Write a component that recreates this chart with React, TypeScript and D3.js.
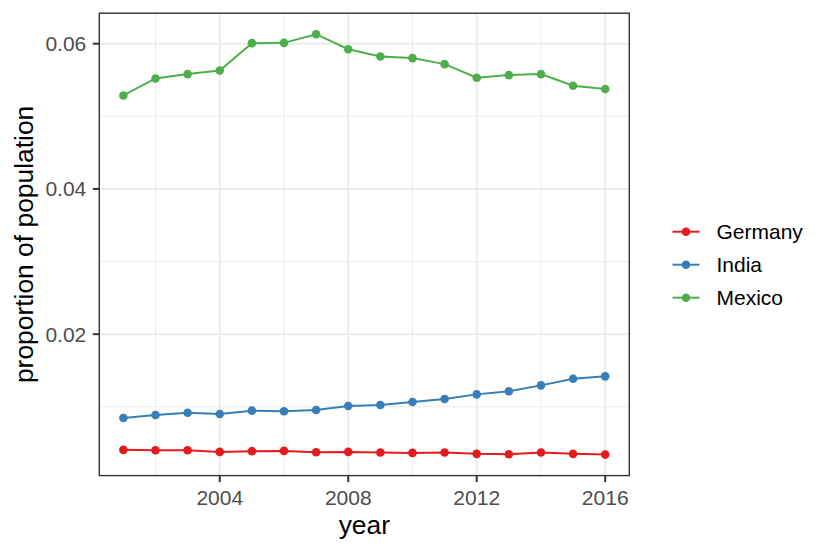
import React from "react";
import * as d3 from "d3";

const years = [2001, 2002, 2003, 2004, 2005, 2006, 2007, 2008, 2009, 2010, 2011, 2012, 2013, 2014, 2015, 2016];
const germany = [0.00407, 0.00402, 0.00402, 0.00379, 0.00389, 0.00393, 0.00375, 0.00379, 0.0037, 0.00365, 0.0037, 0.00352, 0.00347, 0.0037, 0.00352, 0.00342];
const india = [0.00846, 0.00887, 0.00919, 0.00901, 0.00947, 0.00938, 0.00956, 0.01011, 0.01025, 0.01066, 0.01107, 0.01171, 0.01213, 0.01295, 0.01386, 0.01419];
const mexico = [0.05287, 0.05521, 0.05581, 0.05631, 0.06007, 0.06011, 0.0613, 0.05924, 0.05823, 0.05801, 0.05718, 0.0553, 0.05567, 0.05581, 0.0542, 0.05375];
const countries = ["Germany", "India", "Mexico"];
const colors = ["#E41A1C", "#377EB8", "#4DAF4A"];
const xBreaks = [2004, 2008, 2012, 2016];
const xMinor = [2002, 2006, 2010, 2014];
const yBreaks = [0.02, 0.04, 0.06];
const yMinor = [0.01, 0.03, 0.05];

const W = 830, H = 554;
const pL = 99.3, pR = 629.3, pT = 13.2, pB = 475.6;
const FONT = "'Liberation Sans', Arial, Helvetica, sans-serif";

export default function App() {
  const series = [germany, india, mexico];
  const all = series.flat();
  const [yMin, yMax] = d3.extent(all) as [number, number];
  const yPad = (yMax - yMin) * 0.05;
  const xPad = (years[years.length - 1] - years[0]) * 0.05;
  const x = d3.scaleLinear().domain([years[0] - xPad, years[years.length - 1] + xPad]).range([pL, pR]);
  const y = d3.scaleLinear().domain([yMin - yPad, yMax + yPad]).range([pB, pT]);
  const line = d3.line<number>().x((_, i) => x(years[i])).y((d) => y(d));
  const fmt = d3.format(".2f");

  return (
    <svg width={W} height={H} style={{ position: "absolute", left: 0, top: 0, background: "#fff" }} fontFamily={FONT}>
      <rect x={0} y={0} width={W} height={H} fill="#fff" />
      <rect x={pL} y={pT} width={pR - pL} height={pB - pT} fill="#fff" />
      {yMinor.map((v) => (
        <line key={"ym" + v} x1={pL} x2={pR} y1={y(v)} y2={y(v)} stroke="#EBEBEB" strokeWidth={1} />
      ))}
      {xMinor.map((v) => (
        <line key={"xm" + v} y1={pT} y2={pB} x1={x(v)} x2={x(v)} stroke="#EBEBEB" strokeWidth={1} />
      ))}
      {yBreaks.map((v) => (
        <line key={"yM" + v} x1={pL} x2={pR} y1={y(v)} y2={y(v)} stroke="#EBEBEB" strokeWidth={2} />
      ))}
      {xBreaks.map((v) => (
        <line key={"xM" + v} y1={pT} y2={pB} x1={x(v)} x2={x(v)} stroke="#EBEBEB" strokeWidth={2} />
      ))}
      {series.map((s, k) => (
        <g key={countries[k]}>
          <path d={line(s) || ""} fill="none" stroke={colors[k]} strokeWidth={2} />
          {s.map((v, i) => (
            <circle key={i} cx={x(years[i])} cy={y(v)} r={4.3} fill={colors[k]} />
          ))}
        </g>
      ))}
      <rect x={pL} y={pT} width={pR - pL} height={pB - pT} fill="none" stroke="#333333" strokeWidth={1.4} />
      {yBreaks.map((v) => (
        <g key={"yt" + v}>
          <line x1={pL - 6.5} x2={pL} y1={y(v)} y2={y(v)} stroke="#333333" strokeWidth={2} />
          <text x={pL - 13} y={y(v)} dy="0.36em" textAnchor="end" fontSize={21} fill="#4D4D4D">{fmt(v)}</text>
        </g>
      ))}
      {xBreaks.map((v) => (
        <g key={"xt" + v}>
          <line x1={x(v)} x2={x(v)} y1={pB} y2={pB + 6.5} stroke="#333333" strokeWidth={2} />
          <text x={x(v)} y={505} textAnchor="middle" fontSize={21} fill="#4D4D4D">{v}</text>
        </g>
      ))}
      <text x={(pL + pR) / 2} y={534} textAnchor="middle" fontSize={26.4} fill="#000">year</text>
      <text transform={`translate(33, ${(pT + pB) / 2}) rotate(-90)`} textAnchor="middle" fontSize={26.4} fill="#000">proportion of population</text>
      {countries.map((c, k) => {
        const cy = 231.7 + k * 33;
        return (
          <g key={"lg" + c}>
            <line x1={672.5} x2={699.5} y1={cy} y2={cy} stroke={colors[k]} strokeWidth={2} />
            <circle cx={686} cy={cy} r={4.3} fill={colors[k]} />
            <text x={716.5} y={cy} dy="0.36em" fontSize={21} fill="#000">{c}</text>
          </g>
        );
      })}
    </svg>
  );
}
